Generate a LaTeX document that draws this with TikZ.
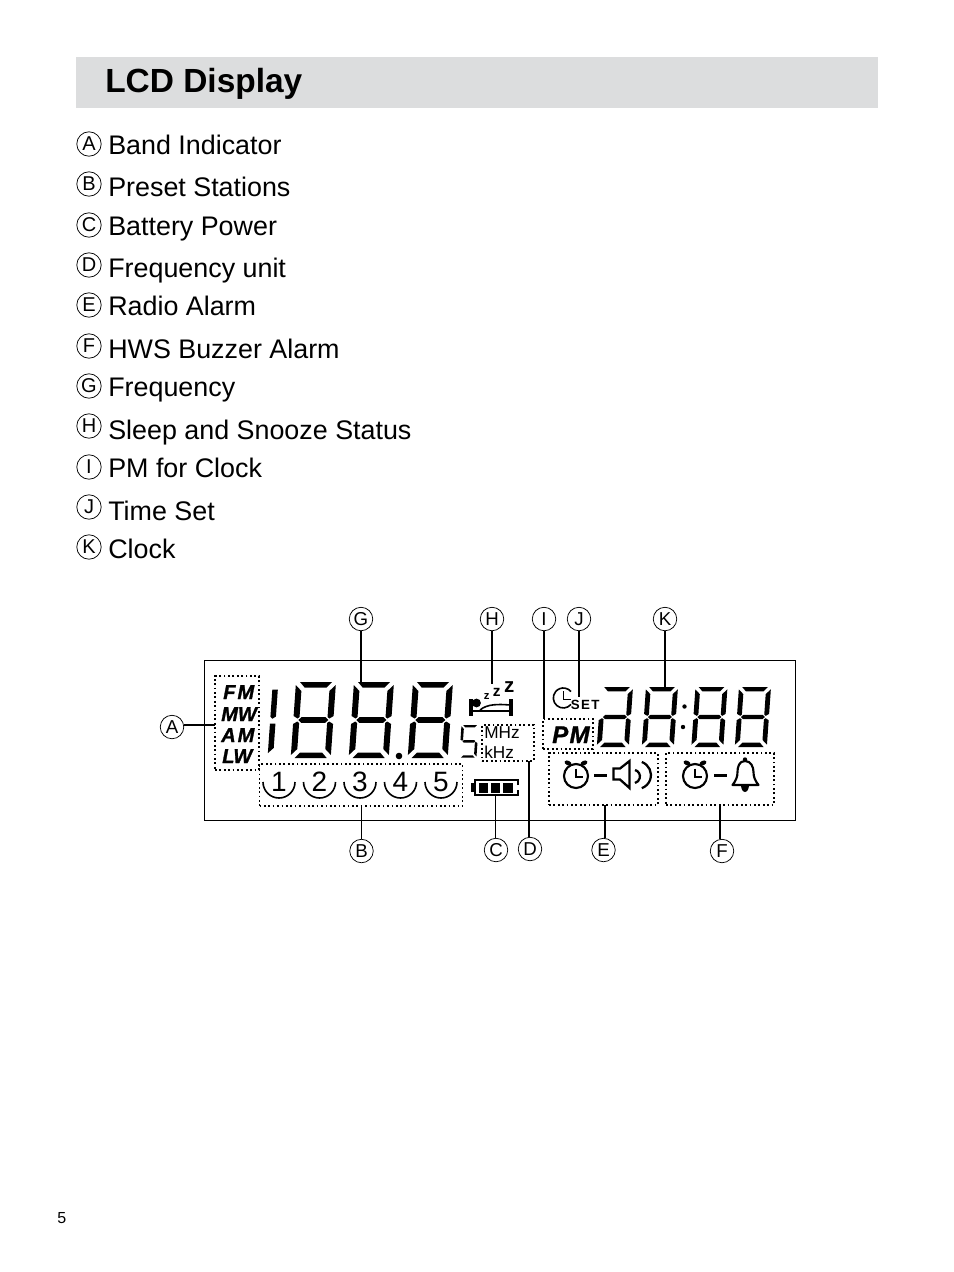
\documentclass[tikz,border=0pt]{standalone}
\usepackage{fontspec}
\setmainfont{Liberation Sans}
\newfontfamily\lcdfont[BoldItalicFeatures={FakeBold=1.3}]{Liberation Sans}
\newcommand{\sA}{\fill (4,0)--(36,0)--(31,5.5)--(9,5.5)--cycle;}
\newcommand{\sB}{\fill (40,3)--(40,34)--(36,36.5)--(34,35)--(34,9)--cycle;}
\newcommand{\sC}{\fill (40,42)--(40,73)--(34,67)--(34,41)--(36,39.5)--cycle;}
\newcommand{\sD}{\fill (4,76)--(36,76)--(31,70.5)--(9,70.5)--cycle;}
\newcommand{\sE}{\fill (0,42)--(0,73)--(6,67)--(6,41)--(4,39.5)--cycle;}
\newcommand{\sF}{\fill (0,3)--(0,34)--(4,36.5)--(6,35)--(6,9)--cycle;}
\newcommand{\sG}{\fill (8,35.2)--(32,35.2)--(35,38)--(32,40.8)--(8,40.8)--(5,38)--cycle;}
\newcommand{\digit}[5]{\begin{scope}[shift={(#1,#2)},xslant=0.07,xscale=#3,yscale=#4]#5\end{scope}}
\newcommand{\alarmicon}[2]{%
  \draw[line width=1.6pt] (#1,#2) circle (12);
  \draw[line width=1.3pt] (#1,#2-7.5)--(#1,#2+1)--(#1+7,#2+1);
  \fill[rotate around={-25:(#1-8,#2-13)}] (#1-8,#2-13) ellipse (3.6 and 2.3);
  \fill[rotate around={25:(#1+8,#2-13)}] (#1+8,#2-13) ellipse (3.6 and 2.3);}
\tikzset{
  x=0.75pt,y=-0.75pt,
  lab/.style={circle,draw,line width=0.55pt,minimum size=18.3pt,inner sep=0pt,font=\fontsize{15}{15}\selectfont},
  small/.style={lab,minimum size=17.6pt,font=\fontsize{14}{14}\selectfont},
  item/.style={anchor=base west,inner sep=0pt,font=\fontsize{20.15}{20}\selectfont},
  conn/.style={line width=1.3pt},
  thinconn/.style={line width=0.9pt},
  dots/.style={line width=1pt,dash pattern=on 1.3pt off 2pt},
  bandtxt/.style={anchor=base west,inner sep=0pt,font=\fontsize{15}{15}\selectfont\lcdfont\bfseries\itshape},
  unit/.style={anchor=base west,inner sep=0pt,font=\fontsize{12.9}{12.9}\selectfont},
  num/.style={anchor=base,inner sep=0pt,font=\fontsize{21}{21}\selectfont},
}
\begin{document}
\begin{tikzpicture}
\useasboundingbox (0,0) rectangle (954,1272);
\fill[white] (0,0) rectangle (954,1272);
\fill[fill={rgb,255:red,220;green,221;blue,222}] (76,57) rectangle (878,107.5);
\node[anchor=base west,inner sep=0pt,font=\fontsize{25.1}{25}\selectfont\bfseries] (title) at (105,92) {LCD Display};
% legend
\foreach \n/\l/\cy/\t/\by in {la/A/144/Band Indicator/154,lb/B/184/Preset Stations/196,lc/C/225/Battery Power/235,ld/D/265/Frequency unit/277,le/E/305/Radio Alarm/315,lf/F/346/HWS Buzzer Alarm/358,lg/G/386/Frequency/396,lh/H/426/Sleep and Snooze Status/439,li/I/467/PM for Clock/477,lj/J/507/Time Set/520,lk/K/547/Clock/558}{
  \node[lab] (\n) at (89,\cy) {\l};
  \node[item] (t\n) at (108,\by) {\t};
}
\node[anchor=base west,inner sep=0pt,font=\fontsize{12}{12}\selectfont] (pg) at (57,1223) {5};
% frame
\draw[line width=1pt] (204.5,660.5) rectangle (795.5,820.5);
% dotted boxes
\node[draw,dots,inner sep=0pt,minimum width=33pt,minimum height=70.5pt] (band) at (237,723) {};
\node[draw,dots,inner sep=0pt,minimum width=152.25pt,minimum height=31.5pt] (presets) at (361,785) {};
\node[draw,dots,inner sep=0pt,minimum width=39pt,minimum height=27pt] (freq) at (508,743) {};
\node[draw,dots,inner sep=0pt,minimum width=37.5pt,minimum height=22.5pt] (pm) at (568,734) {};
\node[draw,dots,inner sep=0pt,minimum width=81.75pt,minimum height=39pt] (radio) at (603.5,779) {};
\node[draw,dots,inner sep=0pt,minimum width=81pt,minimum height=39pt] (buzzer) at (720,779) {};
% band text
\node[bandtxt] (fm) at (223,699) {F\kern1.5pt M};
\node[bandtxt] (mw) at (221,721) {MW};
\node[bandtxt] (am) at (221,742) {A\kern1.5pt M};
\node[bandtxt] (lw) at (222,763) {LW};
% frequency digits
\digit{269.5}{687}{1}{0.87}{\fill (3,3)--(8.5,3)--(8.5,34)--(5,36.5)--(3,34)--cycle;\fill (3,42)--(8.5,42)--(8.5,70)--(3,76)--cycle;}
\digit{296}{682}{1}{1}{\sA\sB\sC\sD\sE\sF\sG}
\digit{354}{682}{1}{1}{\sA\sB\sC\sD\sE\sF\sG}
\digit{413}{682}{1}{1}{\sA\sB\sC\sD\sE\sF\sG}
\fill (399,756) circle (3.3);
\digit{461.5}{725}{0.43}{0.43}{\sA\sF\sG\sC\sD}
% units
\node[unit] (mhz) at (484,738) {MHz};
\node[unit] (khz) at (484,758) {kHz};
% presets
\foreach \n/\cx in {1/279,2/319.5,3/360,4/400.5,5/441}{
  \draw[line width=1.2pt] (\cx-16,782) arc[start angle=180,end angle=0,radius=16];
  \node[num] (n\n) at (\cx,791) {\n};
}
% battery
\draw[line width=1.5pt,line join=miter] (517.5,785)--(517.5,779.5)--(475,779.5)--(475,795)--(517.5,795)--(517.5,790);
\fill (471,783) rectangle (474.5,792);
\fill (479,782.5) rectangle (488,793);
\fill (491,782.5) rectangle (500,793);
\fill (503,782.5) rectangle (512.5,793);
\coordinate (batt) at (495.5,796);
% sleep
\fill (469.3,699.3) rectangle (472.6,716);
\fill (509.3,699.3) rectangle (512.7,716);
\fill (469.3,709.5) rectangle (512.7,712.2);
\fill (476.5,703) circle (4.4);
\draw[line width=1.2pt] (480,710) .. controls (487,704) and (498,704) .. (510,705);
\node[anchor=base,inner sep=0pt,font=\fontsize{8.5}{8.5}\selectfont\bfseries] (z1) at (486.7,699.5) {z};
\node[anchor=base,inner sep=0pt,font=\fontsize{11.6}{11.6}\selectfont\bfseries] (z2) at (496.7,696) {z};
\node[anchor=base,inner sep=0pt,font=\fontsize{15.4}{15.4}\selectfont\bfseries] (z3) at (509.3,692) {z};
% time set
\draw[line width=1.2pt] (571,704.4) arc[start angle=40,end angle=320,radius=10];
\draw[line width=1.3pt] (563.5,691)--(563.5,699.5)--(570.5,699.5);
\node[anchor=base west,inner sep=0pt,font=\fontsize{10}{10}\selectfont\bfseries] (set) at (570.5,709) {S\kern1.1pt E\kern1.1pt T};
\node[anchor=base west,inner sep=0pt,font=\fontsize{18}{18}\selectfont\lcdfont\bfseries\itshape] (pmt) at (552,743) {P\kern1pt M};
% clock digits
\digit{601}{687}{0.8}{0.79}{\sA\sB\sC\sD\sE\sG}
\digit{646}{687}{0.8}{0.79}{\sA\sB\sC\sD\sE\sF\sG}
\digit{695.5}{687}{0.8}{0.79}{\sA\sB\sC\sD\sE\sF\sG}
\digit{739}{687}{0.8}{0.79}{\sA\sB\sC\sD\sE\sF\sG}
\fill (684.5,706.5) circle (2.2);
\fill (683,727) circle (2.2);
% radio alarm icon
\alarmicon{576}{776}
\fill (594,773.5) rectangle (607,776.5);
\draw[line width=1.7pt,line join=miter] (613.5,768.5)--(620,768.5)--(629.5,761)--(629.5,788)--(620,779.5)--(613.5,779.5)--cycle;
\draw[line width=1.7pt] (635,770) arc[start angle=-75,end angle=75,radius=6.7];
\draw[line width=1.7pt] (641.8,762) arc[start angle=-70,end angle=70,radius=13.9];
% buzzer alarm icon
\alarmicon{695}{776}
\fill (714,774) rectangle (727,777);
\draw[line width=1.6pt,line join=round] (745,761) .. controls (739,761) and (737.5,767) .. (737.5,772)
  .. controls (737.5,777) and (736,780.5) .. (732.5,785) -- (758.5,785)
  .. controls (755,780.5) and (753.5,777) .. (753.5,772)
  .. controls (753.5,767) and (751,761) .. (745,761) -- cycle;
\fill (745,759.5) circle (2.2);
\fill (741,785) arc[start angle=180,end angle=0,x radius=4,y radius=7] -- cycle;
% callouts
\node[small] (cG) at (361,619) {G};
\node[small] (cH) at (492,619) {H};
\node[small] (cI) at (544,619) {I};
\node[small] (cJ) at (579,619) {J};
\node[small] (cK) at (665,619) {K};
\node[small] (cA) at (172,727) {A};
\node[small] (cB) at (361.5,851) {B};
\node[small] (cC) at (496,850) {C};
\node[small] (cD) at (530,849) {D};
\node[small] (cE) at (603.5,850) {E};
\node[small] (cF) at (722,851) {F};
\coordinate (eG) at (361,683);
\coordinate (eH) at (492,684);
\coordinate (eI) at (544,719);
\coordinate (eJ) at (579,697);
\coordinate (eK) at (665,687);
\coordinate (eA) at (215,725);
\coordinate (eB) at (361.5,806);
\coordinate (eD) at (529,761);
\coordinate (eE) at (605,805);
\coordinate (eF) at (720,805);
\draw[conn] (cG)--(eG);
\draw[conn] (cH)--(eH);
\draw[conn] (cI)--(eI);
\draw[conn] (cJ)--(eJ);
\draw[thinconn] (cK)--(eK);
\draw[thinconn] (cA.east |- eA)--(eA);
\draw[thinconn] (eB)--(cB);
\draw[thinconn] (batt)--(batt |- cC.north);
\draw[conn] (eD)--(eD |- cD.north);
\draw[conn] (eE)--(eE |- cE.north);
\draw[conn] (eF)--(eF |- cF.north);
\end{tikzpicture}
\end{document}
